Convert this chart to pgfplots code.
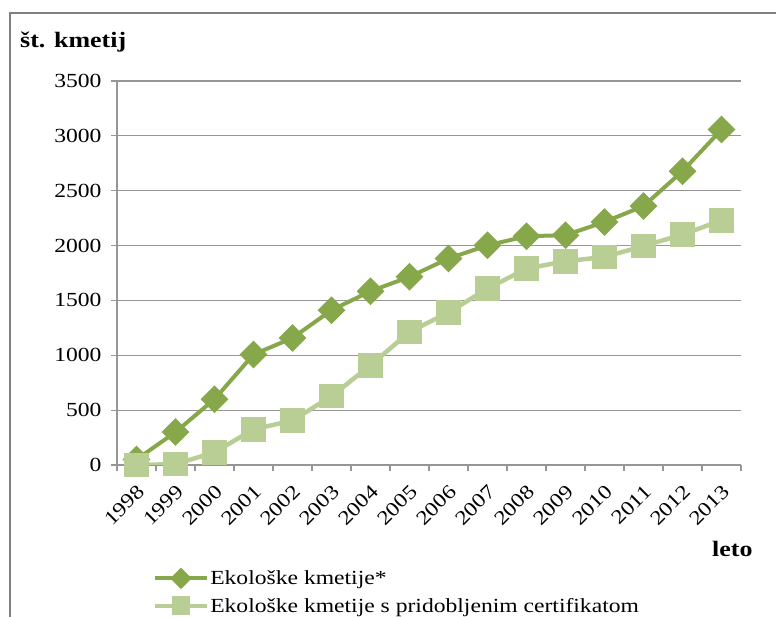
\documentclass[border=0pt]{standalone}
\usepackage{fontspec}
\setmainfont{Liberation Serif}[FakeStretch=1.18]
\usepackage{pgfplots}
\pgfplotsset{compat=1.18}
\definecolor{dkg}{RGB}{134,168,74}
\definecolor{ltg}{RGB}{185,206,149}
\definecolor{grd}{RGB}{150,150,150}
\definecolor{frm}{RGB}{128,128,128}
\begin{document}
\begin{tikzpicture}[x=1pt,y=1pt]
\useasboundingbox (0,0) rectangle (776,617);
\clip (0,0) rectangle (776,617);
\draw[frm, line width=2pt] (10,-5) -- (10,604) -- (790,604);
\begin{axis}[
  at={(117pt,152pt)}, anchor=south west,
  scale only axis, width=624pt, height=384pt,
  xmin=-0.5, xmax=15.5, ymin=0, ymax=3500,
  ytick={0,500,...,3500},
  xtick={-0.5,0.5,...,15.5},
  xticklabels={},
  extra x ticks={0,...,15},
  extra x tick labels={1998,1999,2000,2001,2002,2003,2004,2005,2006,2007,2008,2009,2010,2011,2012,2013},
  extra x tick style={major tick length=0pt, grid=none,
     xticklabel style={xshift=7pt, yshift=-21pt, rotate=45, anchor=east}},
  tick align=outside,
  major tick length=6pt,
  tick style={grd, line width=1.2pt},
  ymajorgrids, grid style={grd, line width=1.2pt},
  axis x line*=bottom, axis y line*=left,
  axis line style={grd, line width=1.2pt},
  ticklabel style={font=\fontsize{20}{24}\selectfont, text=black},
  /pgf/number format/assume math mode=true,
  /pgf/number format/1000 sep={},
  yticklabel style={xshift=-6pt},
  legend style={at={(axis description cs:0.057,-0.272)}, anchor=north west,
     draw=none, fill=none, inner sep=0pt,
     font=\fontsize{20}{24}\selectfont, row sep=10pt,
     nodes={inner sep=1pt}},
  legend cell align=left,
  legend image code/.code={%
    \draw[mark repeat=2, mark phase=2, every mark/.append style={scale=0.72}] plot coordinates {(0pt,0pt) (26pt,0pt) (52pt,0pt)};},
]
\addplot[dkg, line width=4pt, mark=square*, mark size=7.8pt, mark options={rotate=45, solid}]
 coordinates {(0,50)(1,300)(2,600)(3,1007)(4,1158)(5,1411)(6,1584)(7,1715)(8,1882)(9,2002)(10,2085)(11,2095)(12,2215)(13,2360)(14,2678)(15,3057)};
\addplot[ltg, line width=4.5pt, mark=square*, mark size=10pt, mark options={solid}]
 coordinates {(0,0)(1,8)(2,115)(3,325)(4,405)(5,627)(6,909)(7,1213)(8,1390)(9,1608)(10,1790)(11,1857)(12,1896)(13,1996)(14,2100)(15,2230)};
\legend{Ekološke kmetije*, Ekološke kmetije s pridobljenim certifikatom}
\end{axis}
\node[anchor=base west, inner sep=0pt, font=\bfseries\fontsize{22}{26}\selectfont] at (20,569) {št. kmetij};
\node[anchor=base west, inner sep=0pt, font=\bfseries\fontsize{22}{26}\selectfont] at (712,60) {leto};
\end{tikzpicture}
\end{document}
